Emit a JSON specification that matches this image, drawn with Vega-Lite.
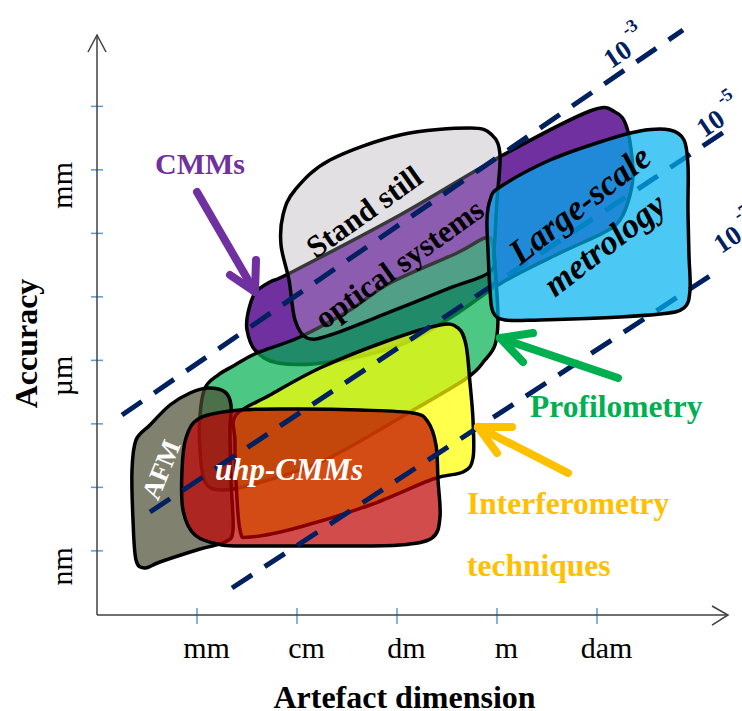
{
  "$schema": "https://vega.github.io/schema/vega-lite/v6.json",
  "width": 645,
  "height": 615,
  "autosize": "none",
  "padding": {"left": 97, "top": 0, "right": 0, "bottom": 96},
  "background": "white",
  "config": {"view": {"stroke": null}},
  "datasets": {
    "blobs": [
      {"s":"afm","i":0,"x":-2.89,"y":-6.435},{"s":"afm","i":1,"x":-2.72,"y":-6.498},{"s":"afm","i":2,"x":-2.66,"y":-6.703},{"s":"afm","i":3,"x":-2.67,"y":-7.097},{"s":"afm","i":4,"x":-2.66,"y":-7.884},{"s":"afm","i":5,"x":-2.64,"y":-8.671},{"s":"afm","i":6,"x":-2.72,"y":-8.86},{"s":"afm","i":7,"x":-2.97,"y":-8.971},{"s":"afm","i":8,"x":-3.37,"y":-9.175},{"s":"afm","i":9,"x":-3.52,"y":-9.27},{"s":"afm","i":10,"x":-3.61,"y":-9.144},{"s":"afm","i":11,"x":-3.64,"y":-8.514},{"s":"afm","i":12,"x":-3.65,"y":-7.727},{"s":"afm","i":13,"x":-3.61,"y":-7.254},{"s":"afm","i":14,"x":-3.47,"y":-7.018},{"s":"afm","i":15,"x":-3.27,"y":-6.703},{"s":"afm","i":16,"x":-3.07,"y":-6.514},
      {"s":"uhp","i":0,"x":-2.97,"y":-6.908},{"s":"uhp","i":1,"x":-2.57,"y":-6.782},{"s":"uhp","i":2,"x":-1.97,"y":-6.766},{"s":"uhp","i":3,"x":-1.37,"y":-6.782},{"s":"uhp","i":4,"x":-0.84,"y":-6.829},{"s":"uhp","i":5,"x":-0.69,"y":-6.971},{"s":"uhp","i":6,"x":-0.61,"y":-7.333},{"s":"uhp","i":7,"x":-0.59,"y":-7.884},{"s":"uhp","i":8,"x":-0.57,"y":-8.467},{"s":"uhp","i":9,"x":-0.65,"y":-8.797},{"s":"uhp","i":10,"x":-0.97,"y":-8.907},{"s":"uhp","i":11,"x":-1.57,"y":-8.923},{"s":"uhp","i":12,"x":-2.37,"y":-8.923},{"s":"uhp","i":13,"x":-2.75,"y":-8.907},{"s":"uhp","i":14,"x":-3.02,"y":-8.75},{"s":"uhp","i":15,"x":-3.14,"y":-8.357},{"s":"uhp","i":16,"x":-3.15,"y":-7.727},{"s":"uhp","i":17,"x":-3.11,"y":-7.222},
      {"s":"int","i":0,"x":-2.61,"y":-6.861},{"s":"int","i":1,"x":-2.27,"y":-6.546},{"s":"int","i":2,"x":-1.77,"y":-6.12},{"s":"int","i":3,"x":-1.1,"y":-5.695},{"s":"int","i":4,"x":-0.57,"y":-5.443},{"s":"int","i":5,"x":-0.39,"y":-5.49},{"s":"int","i":6,"x":-0.31,"y":-5.758},{"s":"int","i":7,"x":-0.27,"y":-6.357},{"s":"int","i":8,"x":-0.24,"y":-6.939},{"s":"int","i":9,"x":-0.24,"y":-7.537},{"s":"int","i":10,"x":-0.34,"y":-7.758},{"s":"int","i":11,"x":-0.64,"y":-7.868},{"s":"int","i":12,"x":-1.27,"y":-8.278},{"s":"int","i":13,"x":-1.97,"y":-8.624},{"s":"int","i":14,"x":-2.47,"y":-8.782},{"s":"int","i":15,"x":-2.57,"y":-8.671},{"s":"int","i":16,"x":-2.61,"y":-7.884},{"s":"int","i":17,"x":-2.62,"y":-7.254},
      {"s":"pro","i":0,"x":-2.92,"y":-6.435},{"s":"pro","i":1,"x":-2.79,"y":-6.231},{"s":"pro","i":2,"x":-2.62,"y":-6.073},{"s":"pro","i":3,"x":-2.4,"y":-5.884},{"s":"pro","i":4,"x":-1.97,"y":-5.632},{"s":"pro","i":5,"x":-1.47,"y":-5.207},{"s":"pro","i":6,"x":-1.07,"y":-4.782},{"s":"pro","i":7,"x":-0.4,"y":-4.309},{"s":"pro","i":8,"x":-0.12,"y":-4.073},{"s":"pro","i":9,"x":-0.04,"y":-4.183},{"s":"pro","i":10,"x":-0.01,"y":-4.735},{"s":"pro","i":11,"x":0.01,"y":-5.364},{"s":"pro","i":12,"x":-0.02,"y":-5.758},{"s":"pro","i":13,"x":-0.12,"y":-5.994},{"s":"pro","i":14,"x":-0.3,"y":-6.278},{"s":"pro","i":15,"x":-0.87,"y":-6.813},{"s":"pro","i":16,"x":-1.72,"y":-7.569},{"s":"pro","i":17,"x":-2.39,"y":-7.931},{"s":"pro","i":18,"x":-2.75,"y":-8.041},{"s":"pro","i":19,"x":-2.92,"y":-7.916},{"s":"pro","i":20,"x":-2.97,"y":-7.412},{"s":"pro","i":21,"x":-2.97,"y":-6.861},
      {"s":"cmm","i":0,"x":-2.49,"y":-5.254},{"s":"cmm","i":1,"x":-2.42,"y":-4.939},{"s":"cmm","i":2,"x":-2.27,"y":-4.766},{"s":"cmm","i":3,"x":-2.05,"y":-4.608},{"s":"cmm","i":4,"x":-0.97,"y":-3.711},{"s":"cmm","i":5,"x":0.06,"y":-2.766},{"s":"cmm","i":6,"x":0.93,"y":-2.073},{"s":"cmm","i":7,"x":1.18,"y":-2.089},{"s":"cmm","i":8,"x":1.3,"y":-2.341},{"s":"cmm","i":9,"x":1.36,"y":-3.002},{"s":"cmm","i":10,"x":1.33,"y":-3.396},{"s":"cmm","i":11,"x":1.23,"y":-3.79},{"s":"cmm","i":12,"x":1.06,"y":-3.994},{"s":"cmm","i":13,"x":0.63,"y":-4.309},{"s":"cmm","i":14,"x":0.06,"y":-4.766},{"s":"cmm","i":15,"x":-0.47,"y":-5.333},{"s":"cmm","i":16,"x":-0.97,"y":-5.758},{"s":"cmm","i":17,"x":-1.67,"y":-6.026},{"s":"cmm","i":18,"x":-2.19,"y":-6.042},{"s":"cmm","i":19,"x":-2.42,"y":-5.837},{"s":"cmm","i":20,"x":-2.5,"y":-5.522},
      {"s":"sso","i":0,"x":-2.14,"y":-3.711},{"s":"sso","i":1,"x":-2.02,"y":-3.317},{"s":"sso","i":2,"x":-1.67,"y":-2.845},{"s":"sso","i":3,"x":-0.97,"y":-2.451},{"s":"sso","i":4,"x":-0.27,"y":-2.341},{"s":"sso","i":5,"x":-0.05,"y":-2.451},{"s":"sso","i":6,"x":0.03,"y":-2.766},{"s":"sso","i":7,"x":0.0,"y":-3.475},{"s":"sso","i":8,"x":-0.03,"y":-4.262},{"s":"sso","i":9,"x":-0.07,"y":-4.608},{"s":"sso","i":10,"x":-0.47,"y":-4.86},{"s":"sso","i":11,"x":-1.07,"y":-5.238},{"s":"sso","i":12,"x":-1.67,"y":-5.601},{"s":"sso","i":13,"x":-1.9,"y":-5.648},{"s":"sso","i":14,"x":-2.02,"y":-5.364},{"s":"sso","i":15,"x":-2.08,"y":-4.735},{"s":"sso","i":16,"x":-2.16,"y":-4.183},
      {"s":"lsm","i":0,"x":-0.07,"y":-3.475},{"s":"lsm","i":1,"x":0.03,"y":-3.27},{"s":"lsm","i":2,"x":0.53,"y":-2.845},{"s":"lsm","i":3,"x":1.03,"y":-2.561},{"s":"lsm","i":4,"x":1.43,"y":-2.388},{"s":"lsm","i":5,"x":1.73,"y":-2.372},{"s":"lsm","i":6,"x":1.87,"y":-2.53},{"s":"lsm","i":7,"x":1.91,"y":-2.923},{"s":"lsm","i":8,"x":1.91,"y":-3.632},{"s":"lsm","i":9,"x":1.92,"y":-4.341},{"s":"lsm","i":10,"x":1.93,"y":-4.892},{"s":"lsm","i":11,"x":1.87,"y":-5.175},{"s":"lsm","i":12,"x":1.63,"y":-5.27},{"s":"lsm","i":13,"x":1.03,"y":-5.333},{"s":"lsm","i":14,"x":0.43,"y":-5.364},{"s":"lsm","i":15,"x":0.08,"y":-5.364},{"s":"lsm","i":16,"x":-0.04,"y":-5.238},{"s":"lsm","i":17,"x":-0.07,"y":-4.892},{"s":"lsm","i":18,"x":-0.09,"y":-4.262},{"s":"lsm","i":19,"x":-0.1,"y":-3.79}
    ],
    "dashes": [
      {"k":"1e-3","i":0,"x":-3.75,"y":-6.861},{"k":"1e-3","i":1,"x":1.86,"y":-0.797},
      {"k":"1e-5","i":0,"x":-3.47,"y":-8.388},{"k":"1e-5","i":1,"x":2.33,"y":-2.341},
      {"k":"1e-7","i":0,"x":-2.65,"y":-9.585},{"k":"1e-7","i":1,"x":2.19,"y":-4.608}
    ],
    "arrows": [
      {"a":"CMMs","seg":"c1","i":0,"x":-3.0,"y":-3.349},{"a":"CMMs","seg":"c1","i":1,"x":-2.42,"y":-4.923},
      {"a":"CMMs","seg":"c2","i":0,"x":-2.41,"y":-4.419},{"a":"CMMs","seg":"c2","i":1,"x":-2.42,"y":-4.923},
      {"a":"CMMs","seg":"c3","i":0,"x":-2.67,"y":-4.656},{"a":"CMMs","seg":"c3","i":1,"x":-2.42,"y":-4.923},
      {"a":"Profilometry","seg":"p1","i":0,"x":1.21,"y":-6.278},{"a":"Profilometry","seg":"p1","i":1,"x":0.03,"y":-5.648},
      {"a":"Profilometry","seg":"p2","i":0,"x":0.36,"y":-5.569},{"a":"Profilometry","seg":"p2","i":1,"x":0.03,"y":-5.648},
      {"a":"Profilometry","seg":"p3","i":0,"x":0.26,"y":-6.026},{"a":"Profilometry","seg":"p3","i":1,"x":0.03,"y":-5.648},
      {"a":"Interferometry","seg":"n1","i":0,"x":0.71,"y":-7.774},{"a":"Interferometry","seg":"n1","i":1,"x":-0.19,"y":-7.05},
      {"a":"Interferometry","seg":"n2","i":0,"x":0.15,"y":-7.05},{"a":"Interferometry","seg":"n2","i":1,"x":-0.19,"y":-7.05},
      {"a":"Interferometry","seg":"n3","i":0,"x":0.0,"y":-7.459},{"a":"Interferometry","seg":"n3","i":1,"x":-0.19,"y":-7.05}
    ],
    "axislines": [
      {"g":"ya","i":0,"x":-4.0,"y":-10.01},{"g":"ya","i":1,"x":-4.0,"y":-0.876},
      {"g":"yh","i":0,"x":-4.09,"y":-1.144},{"g":"yh","i":1,"x":-4.0,"y":-0.876},{"g":"yh","i":2,"x":-3.91,"y":-1.144},
      {"g":"xa","i":0,"x":-4.0,"y":-10.01},{"g":"xa","i":1,"x":2.3,"y":-10.01},
      {"g":"xh","i":0,"x":2.15,"y":-9.868},{"g":"xh","i":1,"x":2.31,"y":-10.01},{"g":"xh","i":2,"x":2.15,"y":-10.168}
    ],
    "ticks": [
      {"x":-4.06,"x2":-3.94,"y":-9,"y2":-9},{"x":-4.06,"x2":-3.94,"y":-8,"y2":-8},{"x":-4.06,"x2":-3.94,"y":-7,"y2":-7},{"x":-4.06,"x2":-3.94,"y":-6,"y2":-6},{"x":-4.06,"x2":-3.94,"y":-5,"y2":-5},{"x":-4.06,"x2":-3.94,"y":-4,"y2":-4},{"x":-4.06,"x2":-3.94,"y":-3,"y2":-3},{"x":-4.06,"x2":-3.94,"y":-2,"y2":-2},
      {"x":-3,"x2":-3,"y":-9.9,"y2":-10.152},{"x":-2,"x2":-2,"y":-9.9,"y2":-10.152},{"x":-1,"x2":-1,"y":-9.9,"y2":-10.152},{"x":0,"x2":0,"y":-9.9,"y2":-10.152},{"x":1,"x2":1,"y":-9.9,"y2":-10.152}
    ]
  },
  "encoding": {
    "x": {"field": "x", "type": "quantitative",
      "scale": {"domain": [-4, 2.45], "nice": false, "zero": false},
      "axis": {"values": [-3, -2, -1, 0, 1],
        "labelExpr": "datum.value == -3 ? 'mm' : datum.value == -2 ? 'cm' : datum.value == -1 ? 'dm' : datum.value == 0 ? 'm' : 'dam'",
        "ticks": false, "tickSize": 0, "domain": false, "grid": false,
        "labelFont": "Liberation Serif", "labelFontSize": 30, "labelColor": "#000",
        "labelPadding": 42, "labelBaseline": "alphabetic", "labelOffset": 9, "labelFlush": false, "labelOverlap": false,
        "title": "Artefact dimension", "titleFont": "Liberation Serif", "titleFontSize": 32, "titleFontWeight": "bold", "titleColor": "#000",
        "titleX": 307, "titleY": 92, "titleBaseline": "alphabetic", "titleAlign": "center"}},
    "y": {"field": "y", "type": "quantitative",
      "scale": {"domain": [-10.01, -0.325], "nice": false, "zero": false},
      "axis": {"values": [-9, -6, -3],
        "labelExpr": "datum.value == -9 ? 'nm' : datum.value == -6 ? 'µm' : 'mm'",
        "ticks": false, "tickSize": 0, "domain": false, "grid": false,
        "labelFont": "Liberation Serif", "labelFontSize": 30, "labelColor": "#000",
        "labelAngle": -90, "labelAlign": "center", "labelBaseline": "alphabetic",
        "labelPadding": 26, "labelOffset": 15, "labelFlush": false, "labelOverlap": false,
        "title": "Accuracy", "titleFont": "Liberation Serif", "titleFontSize": 32, "titleFontWeight": "bold", "titleColor": "#000",
        "titleAngle": -90, "titleX": -61, "titleY": 343, "titleBaseline": "alphabetic", "titleAlign": "center"}}
  },
  "layer": [
    {"data": {"name": "blobs"}, "transform": [{"filter": "datum.s == 'sso'"}],
     "mark": {"type": "line", "interpolate": "cardinal-closed", "fill": "#E3E1E3", "fillOpacity": 1, "stroke": "#E3E1E3", "strokeWidth": 0},
     "encoding": {"order": {"field": "i", "type": "quantitative"}}},
    {"data": {"name": "blobs"}, "transform": [{"filter": "datum.s == 'cmm'"}],
     "mark": {"type": "line", "interpolate": "cardinal-closed", "fill": "#7030A0", "fillOpacity": 1, "stroke": "#000", "strokeWidth": 3.5, "strokeJoin": "round"},
     "encoding": {"order": {"field": "i", "type": "quantitative"}}},
    {"data": {"name": "blobs"}, "transform": [{"filter": "datum.s == 'pro'"}],
     "mark": {"type": "line", "interpolate": "cardinal-closed", "fill": "#00B050", "fillOpacity": 0.7, "stroke": "#000", "strokeWidth": 3.5, "strokeJoin": "round"},
     "encoding": {"order": {"field": "i", "type": "quantitative"}}},
    {"data": {"name": "blobs"}, "transform": [{"filter": "datum.s == 'afm'"}],
     "mark": {"type": "line", "interpolate": "cardinal-closed", "fill": "#4B4B33", "fillOpacity": 0.7, "stroke": "#000", "strokeWidth": 3.5, "strokeJoin": "round"},
     "encoding": {"order": {"field": "i", "type": "quantitative"}}},
    {"data": {"name": "blobs"}, "transform": [{"filter": "datum.s == 'int'"}],
     "mark": {"type": "line", "interpolate": "cardinal-closed", "fill": "#FFFF00", "fillOpacity": 0.7, "stroke": "#000", "strokeWidth": 3.5, "strokeJoin": "round"},
     "encoding": {"order": {"field": "i", "type": "quantitative"}}},
    {"data": {"name": "blobs"}, "transform": [{"filter": "datum.s == 'uhp'"}],
     "mark": {"type": "line", "interpolate": "cardinal-closed", "fill": "#C00000", "fillOpacity": 0.7, "stroke": "#000", "strokeWidth": 3.5, "strokeJoin": "round"},
     "encoding": {"order": {"field": "i", "type": "quantitative"}}},
    {"data": {"name": "blobs"}, "transform": [{"filter": "datum.s == 'sso'"}],
     "mark": {"type": "line", "interpolate": "cardinal-closed", "fill": "#E0E0E0", "fillOpacity": 0.25, "stroke": "#000", "strokeWidth": 3.5, "strokeJoin": "round"},
     "encoding": {"order": {"field": "i", "type": "quantitative"}}},
    {"data": {"name": "dashes"},
     "mark": {"type": "line", "stroke": "#002060", "strokeWidth": 5, "strokeDash": [24, 15]},
     "encoding": {"detail": {"field": "k"}, "order": {"field": "i", "type": "quantitative"}}},
    {"data": {"name": "blobs"}, "transform": [{"filter": "datum.s == 'lsm'"}],
     "mark": {"type": "line", "interpolate": "cardinal-closed", "fill": "#00B0F0", "fillOpacity": 0.7, "stroke": "#000", "strokeWidth": 3.5, "strokeJoin": "round"},
     "encoding": {"order": {"field": "i", "type": "quantitative"}}},
    {"data": {"name": "ticks"},
     "mark": {"type": "rule", "stroke": "#5B9BD5", "strokeWidth": 1.5},
     "encoding": {"x2": {"field": "x2"}, "y2": {"field": "y2"}}},
    {"data": {"name": "axislines"},
     "mark": {"type": "line", "stroke": "#404040", "strokeWidth": 1.5},
     "encoding": {"detail": {"field": "g"}, "order": {"field": "i", "type": "quantitative"}}},
    {"data": {"name": "arrows"},
     "mark": {"type": "line", "strokeWidth": 8, "strokeCap": "round", "strokeJoin": "round"},
     "encoding": {"detail": {"field": "seg"}, "order": {"field": "i", "type": "quantitative"},
       "color": {"field": "a", "type": "nominal", "scale": {"domain": ["CMMs", "Profilometry", "Interferometry"], "range": ["#7030A0", "#00B050", "#FFC000"]}, "legend": null}}},
    {"data": {"values": [{"t":"10","x":1.21,"y":-1.191},{"t":"10","x":2.14,"y":-2.278},{"t":"10","x":2.31,"y":-4.105}]},
     "mark": {"type": "text", "font": "Liberation Serif", "fontSize": 27, "fontWeight": "bold", "color": "#002060", "angle": -34, "align": "center", "baseline": "middle"},
     "encoding": {"text": {"field": "t"}}},
    {"data": {"values": [{"t":"-3","x":1.33,"y":-0.766},{"t":"-5","x":2.28,"y":-1.853},{"t":"-7","x":2.45,"y":-3.679}]},
     "mark": {"type": "text", "font": "Liberation Serif", "fontSize": 18, "fontWeight": "bold", "color": "#002060", "angle": -34, "align": "center", "baseline": "middle"},
     "encoding": {"text": {"field": "t"}}},
    {"data": {"values": [{"t":"CMMs","x":-2.97,"y":-2.923}]},
     "mark": {"type": "text", "font": "Liberation Serif", "fontSize": 30, "fontWeight": "bold", "color": "#7030A0", "align": "center", "baseline": "middle"},
     "encoding": {"text": {"field": "t"}}},
    {"data": {"values": [{"t":"Profilometry","x":0.33,"y":-6.892}]},
     "mark": {"type": "text", "font": "Liberation Serif", "fontSize": 31.5, "fontWeight": "bold", "color": "#00B050", "align": "left", "baseline": "alphabetic"},
     "encoding": {"text": {"field": "t"}}},
    {"data": {"values": [{"t":"Interferometry","x":-0.3,"y":-8.419},{"t":"techniques","x":-0.3,"y":-9.396}]},
     "mark": {"type": "text", "font": "Liberation Serif", "fontSize": 31.5, "fontWeight": "bold", "color": "#FFC000", "align": "left", "baseline": "alphabetic"},
     "encoding": {"text": {"field": "t"}}},
    {"data": {"values": [{"t":"Stand still","x":-1.32,"y":-3.679},{"t":"optical systems","x":-0.97,"y":-4.498}]},
     "mark": {"type": "text", "font": "Liberation Serif", "fontSize": 31, "fontWeight": "bold", "color": "#000", "angle": -35.5, "align": "center", "baseline": "middle"},
     "encoding": {"text": {"field": "t"}}},
    {"data": {"values": [{"t":"Large-scale","x":0.83,"y":-3.553},{"t":"metrology","x":1.08,"y":-4.183}]},
     "mark": {"type": "text", "font": "Liberation Serif", "fontSize": 35, "fontWeight": "bold", "fontStyle": "italic", "color": "#000", "angle": -38, "align": "center", "baseline": "middle"},
     "encoding": {"text": {"field": "t"}}},
    {"data": {"values": [{"t":"AFM","x":-3.35,"y":-7.727}]},
     "mark": {"type": "text", "font": "Liberation Serif", "fontSize": 27, "fontWeight": "bold", "color": "#FFFFFF", "angle": -68, "align": "center", "baseline": "middle"},
     "encoding": {"text": {"field": "t"}}},
    {"data": {"values": [{"t":"uhp-CMMs","x":-2.08,"y":-7.884}]},
     "mark": {"type": "text", "font": "Liberation Serif", "fontSize": 31, "fontWeight": "bold", "fontStyle": "italic", "color": "#FFFFFF", "align": "center", "baseline": "alphabetic"},
     "encoding": {"text": {"field": "t"}}}
  ]
}
